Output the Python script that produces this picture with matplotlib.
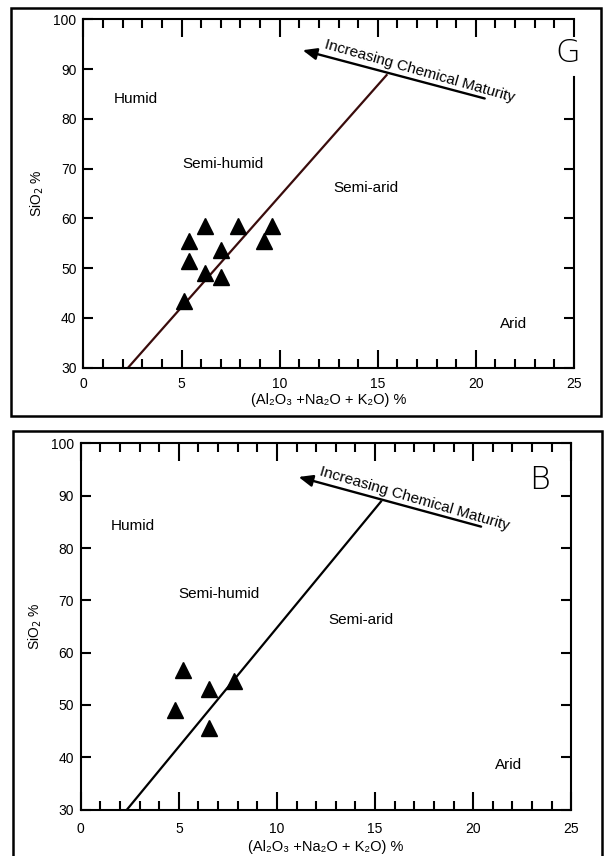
import matplotlib
matplotlib.use("Agg")
import matplotlib.pyplot as plt
from matplotlib.ticker import MultipleLocator
from matplotlib.patches import Rectangle
import numpy as np

plt.rcParams['font.family'] = ['Liberation Sans', 'DejaVu Sans']

# ---- data ----
g_x = [5.1, 5.4, 5.4, 6.2, 6.2, 7.0, 7.0, 7.9, 9.2, 9.6]
g_y = [43.4, 55.4, 51.4, 58.4, 49.0, 53.7, 48.2, 58.4, 55.4, 58.4]
b_x = [5.2, 4.8, 6.55, 6.55, 7.8]
b_y = [56.7, 49.1, 53.1, 45.5, 54.5]

g_line_x = [2.27, 15.45]
g_line_y = [30, 88.8]
b_line_x = [2.36, 15.3]
b_line_y = [30, 88.9]

g_arrow = (20.45, 84.1, 11.17, 93.8)   # tail x,y ; head x,y
b_arrow = (20.4, 84.1, 11.1, 93.6)

regions = ["Humid", "Semi-humid", "Semi-arid", "Arid"]
g_region_xy = [(2.67, 84.0), (7.1, 71.0), (14.4, 66.1), (21.9, 38.7)]
b_region_xy = [(2.66, 84.2), (7.05, 71.2), (14.3, 66.3), (21.8, 38.6)]

xticks = [0, 5, 10, 15, 20, 25]
yticks = [30, 40, 50, 60, 70, 80, 90, 100]
g_right_ticks = [30, 40, 50, 60, 70, 80]
b_right_ticks = [30, 40, 50, 60, 70, 80, 90, 100]
xlabel = "(Al\u2082O\u2083 +Na\u2082O + K\u2082O) %"
ylabel = "SiO$_2$ %"
arrow_text = "Increasing Chemical Maturity"

fig = plt.figure(figsize=(6.05, 8.56), dpi=100)

# panel borders
fig.add_artist(Rectangle((0.019, 0.514), 0.975, 0.477, transform=fig.transFigure,
                         fill=False, lw=1.8, ec='black'))
fig.add_artist(Rectangle((0.0207, -0.02), 0.9747, 0.517, transform=fig.transFigure,
                         fill=False, lw=1.8, ec='black'))


def panel(rect, xs, ys, lx, ly, lcolor, arr, region_xy, letter, letter_xy, text_xy,
          right_top, right_ticks, xpad, xlabpad):
    ax = fig.add_axes(rect)
    ax.set_xlim(0, 25)
    ax.set_ylim(30, 100)
    ax.set_xticks(xticks)
    ax.set_yticks(yticks)
    ax.xaxis.set_minor_locator(MultipleLocator(1))
    ax.tick_params(axis='x', which='major', direction='in', top=True, bottom=True,
                   length=13, width=1.5, labelsize=10, pad=xpad)
    ax.tick_params(axis='x', which='minor', direction='in', top=True, bottom=True,
                   length=6.5, width=1.5)
    ax.tick_params(axis='y', which='major', direction='in', left=True, right=False,
                   length=7, width=1.5, labelsize=10, pad=5)
    for s in ax.spines.values():
        s.set_linewidth(1.5)
    ax.spines['right'].set_visible(False)

    # right-hand axis (same scale) carrying the right spine and ticks
    axr = ax.twinx()
    axr.set_ylim(30, 100)
    axr.set_yticks(right_ticks)
    axr.tick_params(axis='y', direction='in', right=True, labelright=False,
                    length=7, width=1.5)
    for k in ['left', 'top', 'bottom']:
        axr.spines[k].set_visible(False)
    axr.spines['right'].set_linewidth(1.5)
    axr.spines['right'].set_bounds(30, right_top)

    ax.set_xlabel(xlabel, fontsize=10.5, labelpad=xlabpad)
    ax.set_ylabel(ylabel, fontsize=10, labelpad=5)

    ax.plot(lx, ly, color=lcolor, lw=1.6, zorder=2)
    ax.plot(xs, ys, linestyle='none', marker='^', ms=12, color='black', zorder=3)

    tx, ty, hx, hy = arr
    ax.annotate('', xy=(hx, hy), xytext=(tx, ty),
                arrowprops=dict(arrowstyle='-|>,head_length=0.6,head_width=0.25',
                                color='black', lw=1.7,
                                mutation_scale=14, shrinkA=0, shrinkB=0),
                annotation_clip=False)
    p1 = ax.transData.transform((hx, hy))
    p2 = ax.transData.transform((tx, ty))
    ang = np.degrees(np.arctan2(p2[1] - p1[1], p2[0] - p1[0]))
    ax.text(text_xy[0], text_xy[1], arrow_text, rotation=ang - 1.0, rotation_mode='anchor',
            ha='left', va='bottom', fontsize=11)

    for name, (x, y) in zip(regions, region_xy):
        ax.text(x, y, name, ha='center', va='center', fontsize=11)
    ax.text(letter_xy[0], letter_xy[1], letter, ha='center', va='center', fontsize=23,
            family=['DejaVu Sans'], fontweight='light')
    return ax


panel([0.138, 0.5704, 0.8107, 0.4070], g_x, g_y, g_line_x, g_line_y, '#3a0c0c',
      g_arrow, g_region_xy, 'G', (24.7, 93.2), (12.2, 93.6), 88.4, g_right_ticks, 7, 1)
panel([0.1334, 0.0543, 0.811, 0.4276], b_x, b_y, b_line_x, b_line_y, 'black',
      b_arrow, b_region_xy, 'B', (23.4, 93.0), (12.1, 93.4), 100, b_right_ticks, 9, 3)

fig.savefig("out.png", dpi=100)
